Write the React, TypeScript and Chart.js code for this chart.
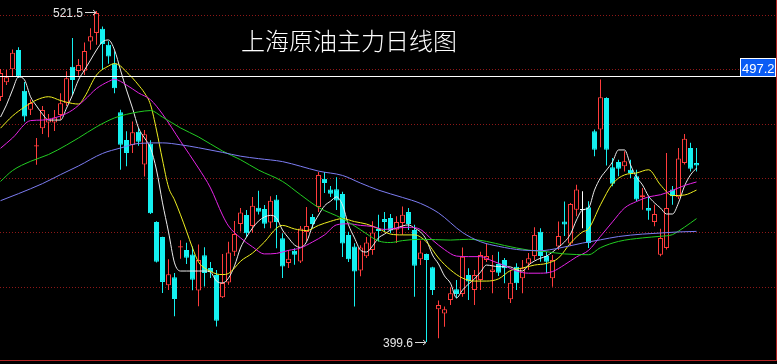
import React, { useEffect, useRef } from "react";
import { Chart, registerables } from "chart.js";

Chart.register(...registerables);

// ---- Candles (index 0..116, daily bars) ----
const OPEN = [
  489.8, 495.2, 500.0, 507.1, 492.1, 485.1, 471.7, 478.3, 480.4, 480.4,
  483.2, 487.5, 500.9, 499.4, 499.5, 510.2, 513.4, 514.9, 509.0, 502.1,
  484.2, 474.0, 472.1, 477.0, 464.9, 472.6, 443.8, 438.2, 420.5, 423.4,
  434.5, 433.4, 431.8, 418.5, 431.5, 426.8, 424.2, 416.0, 421.5, 432.8,
  443.0, 446.3, 442.3, 449.0, 448.5, 443.6, 452.0, 437.8, 428.7, 433.2,
  429.2, 440.1, 445.6, 449.3, 459.7, 455.7, 455.8, 454.1, 439.0, 434.7,
  425.9, 431.1, 433.4, 441.2, 444.9, 445.2, 440.9, 443.4, 447.4, 440.8,
  430.0, 432.0, 427.1, 411.6, 410.1, 415.0, 419.0, 417.2, 424.2, 418.7,
  422.4, 429.8, 425.3, 428.3, 429.8, 415.3, 427.3, 423.0, 428.5, 431.2,
  440.2, 431.2, 423.0, 434.7, 443.9, 435.8, 448.3, 448.3, 449.2, 477.2,
  477.8, 489.4, 463.9, 465.9, 464.3, 463.0, 460.6, 452.9, 448.9, 443.8,
  431.7, 434.2, 455.7, 452.9, 465.5, 471.0, 465.5,
];
const HIGH = [
  500.1, 499.7, 507.3, 508.1, 495.3, 488.9, 474.7, 486.5, 483.5, 485.0,
  491.2, 499.3, 511.5, 503.8, 509.9, 515.1, 521.5, 515.8, 510.3, 506.6,
  485.1, 477.2, 480.8, 478.4, 477.6, 473.9, 444.0, 438.3, 430.0, 425.0,
  437.0, 436.1, 434.7, 435.5, 434.5, 429.0, 426.1, 432.0, 436.5, 444.1,
  448.9, 448.2, 453.0, 455.3, 450.0, 453.2, 453.7, 439.6, 433.4, 434.1,
  442.3, 449.3, 446.7, 462.2, 462.2, 457.0, 460.2, 454.9, 440.2, 435.9,
  435.2, 438.2, 444.0, 446.4, 447.4, 446.7, 445.9, 449.5, 448.9, 442.7,
  436.9, 432.2, 427.3, 414.8, 412.6, 419.7, 422.4, 434.4, 426.7, 426.1,
  432.8, 435.7, 431.6, 432.8, 430.5, 426.1, 428.6, 429.8, 432.3, 441.8,
  441.5, 432.8, 431.6, 443.9, 451.3, 450.8, 457.5, 455.1, 451.4, 477.8,
  496.2, 489.7, 467.3, 466.7, 469.8, 466.7, 463.0, 456.3, 453.2, 450.1,
  441.3, 469.2, 457.0, 471.0, 476.2, 472.9, 471.0,
];
const LOW = [
  488.3, 494.2, 497.5, 496.8, 480.8, 483.2, 464.8, 476.2, 475.0, 477.3,
  481.4, 486.5, 490.5, 497.6, 497.9, 507.2, 509.0, 499.8, 502.0, 491.2,
  463.0, 464.3, 469.2, 471.8, 460.5, 446.7, 428.8, 417.6, 418.7, 409.0,
  430.2, 428.3, 418.6, 412.7, 420.0, 423.1, 405.3, 415.8, 420.6, 431.2,
  440.3, 438.2, 439.7, 446.5, 441.5, 441.5, 434.1, 423.1, 426.8, 428.0,
  428.7, 436.8, 441.5, 447.4, 454.4, 453.0, 448.2, 430.9, 429.0, 412.6,
  423.8, 430.5, 431.7, 436.6, 440.1, 439.7, 436.0, 439.1, 440.8, 416.2,
  427.9, 399.6, 416.9, 400.9, 405.2, 413.2, 415.7, 416.2, 415.0, 413.2,
  418.7, 429.0, 417.5, 423.9, 421.2, 413.9, 418.7, 417.5, 426.1, 429.8,
  429.1, 424.9, 419.9, 433.4, 438.6, 434.9, 445.9, 441.5, 434.2, 468.0,
  471.3, 464.6, 456.9, 460.6, 462.4, 460.0, 451.4, 448.3, 444.6, 442.2,
  431.1, 433.6, 450.1, 452.2, 464.9, 462.4, 462.4,
];
const CLOSE = [
  498.6, 497.1, 506.1, 497.3, 482.6, 487.6, 471.9, 485.0, 481.9, 482.2,
  487.5, 496.7, 496.1, 501.6, 506.7, 512.2, 520.7, 509.3, 504.7, 493.0,
  472.2, 469.2, 476.8, 473.3, 476.1, 447.0, 429.1, 421.7, 424.5, 415.4,
  434.7, 430.6, 422.5, 429.8, 425.0, 425.3, 407.4, 421.3, 432.5, 439.3,
  447.3, 439.6, 449.7, 447.5, 443.1, 451.6, 443.8, 427.4, 430.2, 431.7,
  441.4, 442.3, 443.0, 461.1, 458.1, 454.2, 451.7, 435.8, 430.0, 425.5,
  434.4, 436.2, 439.9, 440.4, 443.8, 440.6, 443.8, 446.4, 443.0, 427.6,
  432.5, 429.8, 418.7, 413.2, 411.6, 417.5, 417.2, 431.0, 421.8, 424.2,
  431.6, 431.2, 426.3, 425.1, 426.7, 421.4, 421.2, 426.7, 430.4, 439.0,
  431.2, 429.1, 429.8, 438.6, 442.8, 450.4, 455.7, 448.3, 436.0, 470.4,
  489.7, 470.4, 457.8, 463.4, 466.1, 461.8, 452.0, 453.6, 447.9, 446.7,
  437.9, 448.9, 453.2, 467.1, 474.4, 463.4, 464.6,
];

// ---- Moving averages ----
const MA5 = [
  482.4, 486.9, 492.4, 497.2, 496.1, 489.9, 486.5, 483.5, 481.3, 481.3,
  481.3, 485.7, 490.5, 496.1, 499.7, 503.4, 507.1, 510.1, 510.8, 507.1,
  499.7, 492.4, 485.7, 478.4, 474.7, 471.0, 462.9, 450.8, 440.1, 428.7,
  425.7, 425.7, 425.7, 425.7, 425.7, 425.3, 422.0, 421.3, 423.1, 427.6,
  434.2, 438.2, 441.5, 444.1, 445.6, 446.2, 445.2, 440.8, 437.9, 435.3,
  434.4, 436.4, 442.3, 446.3, 449.7, 451.4, 453.0, 450.0, 442.7, 437.9,
  433.4, 432.7, 434.9, 437.9, 439.3, 440.8, 441.5, 442.3, 442.7, 441.5,
  440.1, 437.1, 431.6, 428.3, 423.9, 421.2, 415.8, 418.7, 420.9, 422.8,
  425.3, 427.9, 427.6, 427.3, 427.3, 427.2, 426.1, 425.7, 427.9, 429.4,
  430.4, 431.2, 432.7, 434.5, 436.4, 439.3, 444.5, 448.2, 448.9, 455.5,
  460.0, 462.9, 465.9, 470.3, 470.3, 464.8, 460.3, 457.4, 453.3, 450.8,
  448.9, 446.7, 446.7, 450.8, 457.0, 461.1, 463.6,
];
const MA10_IDX = [
  0, 2, 4, 6, 8, 10, 12, 13, 14, 16, 18, 19, 20, 21, 22, 23, 24, 25, 26, 27,
  28, 29, 30, 31, 32, 33, 34, 35, 36, 37, 38, 39, 40, 42, 44, 46, 47, 49, 51, 53,
  55, 57, 59, 61, 63, 65, 67, 69, 71, 73, 75, 77, 79, 81, 83, 85, 87, 89, 91, 93,
  95, 97, 98, 100, 102, 104, 106, 108, 110, 112, 114, 116,
];
const MA10 = [
  478.3, 482.8, 486.1, 488.7, 489.9, 488.5, 487.4, 487.2, 489.8, 497.9,
  501.2, 502.1, 501.2, 499.0, 496.8, 494.2, 491.3, 487.0, 477.6, 466.6,
  456.6, 451.9, 446.4, 440.4, 434.2, 429.0, 426.8, 425.6, 424.6, 424.4,
  424.8, 426.8, 429.3, 432.3, 436.4, 441.5, 442.5, 441.2, 440.6, 442.5,
  444.0, 445.0, 443.9, 443.0, 441.3, 439.3, 439.0, 439.0, 436.4, 430.5,
  426.1, 423.1, 422.0, 422.0, 422.8, 425.9, 426.8, 427.9, 428.5, 430.5,
  436.0, 440.1, 441.2, 450.1, 457.8, 461.1, 461.8, 463.0, 457.4, 453.5,
  453.7, 455.5,
];
const MA20_IDX = [
  0, 2, 5, 7, 10, 12, 14, 16, 18, 19, 21, 23, 25, 27, 30, 33, 35, 37, 38, 40,
  42, 44, 46, 48, 50, 52, 54, 56, 58, 60, 62, 64, 66, 68, 70, 72, 74, 76, 78, 80,
  82, 84, 86, 88, 90, 92, 94, 96, 98, 100, 102, 104, 106, 108, 110, 112, 114, 116,
];
const MA20 = [
  470.9, 474.7, 481.1, 481.3, 482.8, 485.0, 488.7, 492.9, 495.5, 496.3,
  494.2, 491.3, 488.8, 483.5, 473.5, 463.6, 456.3, 446.3, 442.3, 437.9,
  434.6, 432.0, 432.2, 433.3, 434.2, 436.4, 439.0, 442.7, 443.1, 442.5,
  442.1, 441.0, 441.5, 441.8, 441.0, 437.1, 433.6, 431.2, 431.0, 431.0,
  429.4, 427.7, 425.7, 424.9, 424.9, 425.5, 428.0, 430.9, 433.3, 438.5,
  443.8, 448.9, 451.3, 453.0, 453.8, 455.4, 457.2, 458.5,
];
const MA40_IDX = [
  0, 2, 5, 8, 11, 13, 16, 19, 21, 23, 25, 27, 30, 33, 37, 40, 43, 47, 50, 53,
  57, 60, 63, 65, 67, 70, 75, 78, 81, 84, 88, 91, 94, 98, 100, 103, 107, 110, 112, 113,
  115, 116,
];
const MA40 = [
  458.7, 462.7, 466.1, 468.6, 472.1, 474.7, 478.8, 482.1, 483.4, 484.3,
  484.8, 482.4, 478.4, 475.1, 469.9, 466.7, 462.9, 458.7, 453.8, 449.1,
  445.0, 440.9, 436.8, 436.2, 436.9, 437.4, 437.1, 437.4, 436.6, 435.1,
  433.4, 432.8, 432.0, 431.7, 434.3, 436.6, 437.9, 438.5, 439.1, 440.4,
  443.4, 445.0,
];
const MA60_IDX = [
  0, 3, 7, 10, 13, 17, 20, 23, 27, 30, 33, 37, 40, 43, 47, 50, 53, 57, 60, 63,
  67, 70, 73, 77, 80, 83, 87, 90, 93, 97, 100, 103, 107, 110, 113, 116,
];
const MA60 = [
  451.6, 454.2, 457.9, 461.2, 464.4, 469.0, 471.0, 472.7, 472.9, 472.2,
  471.1, 469.4, 468.0, 467.1, 466.0, 464.3, 462.5, 460.9, 458.1, 455.5,
  452.8, 450.6, 447.1, 439.9, 436.5, 434.8, 433.4, 433.2, 434.1, 436.0,
  437.2, 438.4, 439.3, 439.7, 440.1, 440.3,
];

// ---- Axis / annotations ----
const GRID_LEVELS = [420, 440, 460, 480, 500, 520];
const Y_MIN = 392.93;
const Y_MAX = 525.52;
const REF_LINE = 497.2;
const TITLE = "上海原油主力日线图";
const HIGH_LABEL = { index: 16, value: 521.5, text: "521.5" };
const LOW_LABEL = { index: 71, value: 399.6, text: "399.6" };

const RED = "#ff3c3c";
const CYAN = "#14f0f0";
const WHITE = "#ffffff";

const W = 777;
const H = 364;

function candleColor(i: number) {
  if (CLOSE[i] > OPEN[i]) return RED;
  if (CLOSE[i] < OPEN[i]) return CYAN;
  return WHITE;
}

const overlay = {
  id: "overlay",
  beforeDatasetsDraw(chart: any) {
    const { ctx, chartArea, scales } = chart;
    const y = scales.y;
    ctx.save();
    ctx.strokeStyle = "#8e1818";
    ctx.lineWidth = 1;
    ctx.setLineDash([1, 2]);
    GRID_LEVELS.forEach((v) => {
      const py = Math.round(y.getPixelForValue(v)) + 0.5;
      ctx.beginPath();
      ctx.moveTo(0, py);
      ctx.lineTo(chartArea.right, py);
      ctx.stroke();
    });
    ctx.setLineDash([]);
    ctx.restore();
  },
  afterDatasetsDraw(chart: any) {
    const { ctx, chartArea, scales } = chart;
    const x = scales.x;
    const y = scales.y;
    ctx.save();
    // borders
    ctx.fillStyle = "#b02424";
    ctx.fillRect(W - 1, 0, 1, chartArea.bottom + 1);
    ctx.fillRect(0, chartArea.bottom, W, 1);

    // reference line + label
    const ry = Math.floor(y.getPixelForValue(REF_LINE));
    ctx.fillStyle = "#ffffff";
    ctx.fillRect(0, ry, 740, 1);
    ctx.fillStyle = "#0a5cf5";
    ctx.fillRect(740, ry - 18, 36, 19);
    ctx.strokeStyle = "#ffffff";
    ctx.lineWidth = 1;
    ctx.strokeRect(740.5, ry - 17.5, 35, 18);
    ctx.fillStyle = "#ffffff";
    ctx.font = '13px "Liberation Sans", Arial, sans-serif';
    ctx.textAlign = "left";
    ctx.textBaseline = "alphabetic";
    ctx.fillText(REF_LINE.toFixed(1), 742, ry - 3);

    // high / low labels with arrows
    const drawLabel = (lab: { index: number; value: number; text: string }, dy: number) => {
      const cx = Math.round(x.getPixelForValue(lab.index));
      const ay = Math.round(y.getPixelForValue(lab.value)) + dy + 0.5;
      ctx.fillStyle = "#e6e6e6";
      ctx.font = '12px "Liberation Sans", Arial, sans-serif';
      ctx.textAlign = "right";
      ctx.textBaseline = "alphabetic";
      ctx.fillText(lab.text, cx - 14, ay + 4);
      ctx.strokeStyle = "#d8d8d8";
      ctx.lineWidth = 1;
      ctx.beginPath();
      ctx.moveTo(cx - 12, ay);
      ctx.lineTo(cx - 1, ay);
      ctx.moveTo(cx - 4, ay - 2.5);
      ctx.lineTo(cx - 1, ay);
      ctx.lineTo(cx - 4, ay + 2.5);
      ctx.stroke();
    };
    drawLabel(HIGH_LABEL, 1);
    drawLabel(LOW_LABEL, 0);

    // title
    ctx.fillStyle = "#ffffff";
    ctx.font = '300 24px "Noto Sans CJK SC", sans-serif';
    ctx.textAlign = "left";
    ctx.textBaseline = "middle";
    ctx.fillText(TITLE, 241, 41);
    ctx.restore();
  },
};

export default function App() {
  const ref = useRef<HTMLCanvasElement>(null);
  useEffect(() => {
    document.body.style.margin = "0";
    document.body.style.background = "#000";
    const idx = OPEN.map((_, i) => i);
    const bodies = idx.map((i) => {
      const o = OPEN[i];
      const c = CLOSE[i];
      if (Math.abs(c - o) < 0.5) {
        const m = (o + c) / 2;
        return { x: i, y: [m - 0.2, m + 0.2] };
      }
      return { x: i, y: [o, c] };
    });
    const wicks = idx.map((i) => ({ x: i, y: [LOW[i], HIGH[i]] }));
    const colors = idx.map(candleColor);
    const fills = idx.map((i) =>
      CLOSE[i] > OPEN[i] && Math.abs(CLOSE[i] - OPEN[i]) >= 0.5 ? "#000000" : colors[i]
    );
    const pts = (ix: number[], vals: number[]) => ix.map((i, k) => ({ x: i, y: vals[k] }));
    const line = (data: any[], color: string) => ({
      type: "line" as const,
      data,
      borderColor: color,
      borderWidth: 1,
      pointRadius: 0,
      cubicInterpolationMode: "monotone" as const,
      order: 0,
    });
    const xMin = -0.5 / 6;
    const chart = new Chart(ref.current as HTMLCanvasElement, {
      type: "bar",
      data: {
        datasets: [
          line(pts(MA60_IDX, MA60), "#7c7cf2"),
          line(pts(MA40_IDX, MA40), "#22cc22"),
          line(pts(MA20_IDX, MA20), "#e624e6"),
          line(pts(MA10_IDX, MA10), "#f0f020"),
          line(pts(idx, MA5), "#ececec"),
          {
            type: "bar",
            data: bodies as any,
            backgroundColor: fills,
            borderColor: colors,
            borderWidth: 1,
            borderSkipped: false,
            barThickness: 5,
            grouped: false,
            inflateAmount: 0,
            order: 1,
          } as any,
          {
            type: "bar",
            data: wicks as any,
            backgroundColor: colors,
            borderWidth: 0,
            barThickness: 1,
            grouped: false,
            inflateAmount: 0,
            order: 2,
          } as any,
        ],
      },
      options: {
        animation: false,
        responsive: false,
        events: [],
        layout: { padding: { left: 0, right: 0, top: 0, bottom: 4 } },
        plugins: {
          legend: { display: false },
          tooltip: { enabled: false },
          title: { display: false },
        },
        scales: {
          x: { type: "linear", display: false, min: xMin, max: xMin + W / 6, offset: false },
          y: { type: "linear", display: false, min: Y_MIN, max: Y_MAX, beginAtZero: false },
        },
      },
      plugins: [overlay],
    });
    return () => chart.destroy();
  }, []);
  return (
    <div style={{ width: W, height: H, background: "#000" }}>
      <canvas ref={ref} width={W} height={H} style={{ display: "block" }} />
    </div>
  );
}
